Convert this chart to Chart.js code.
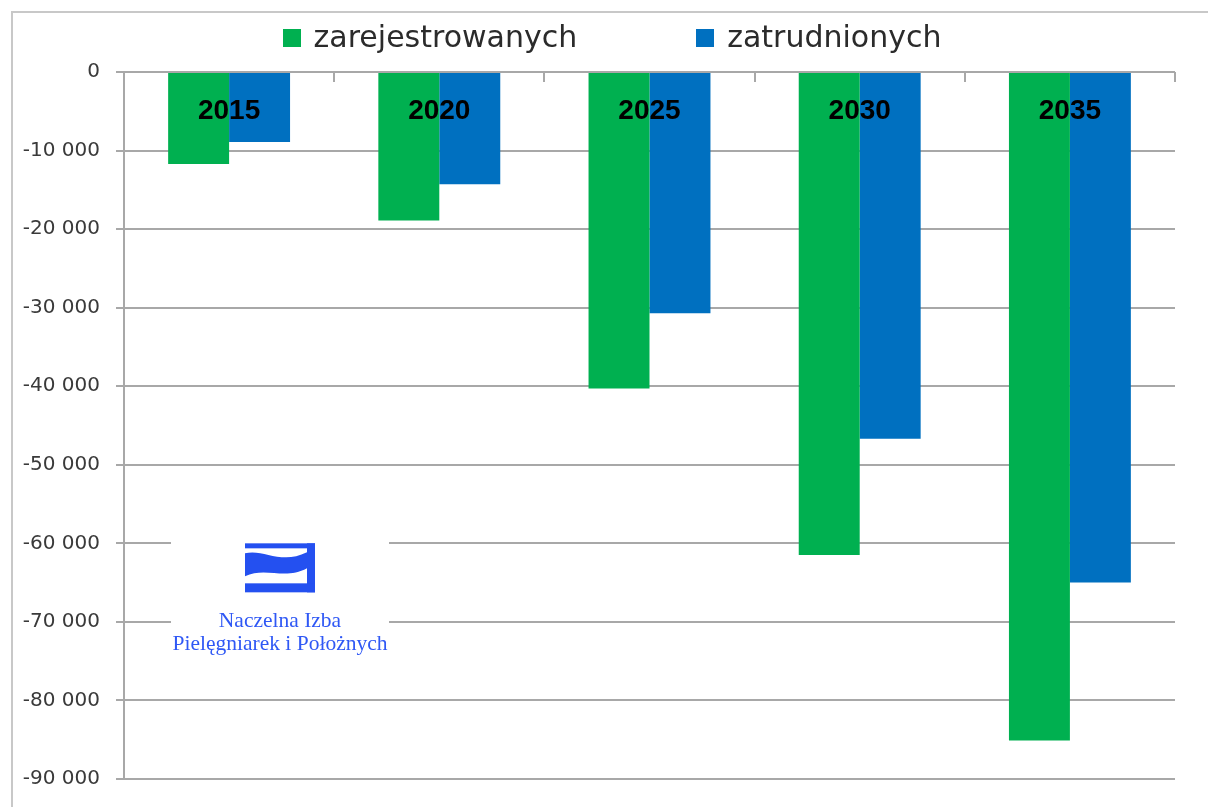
<!DOCTYPE html>
<html>
<head>
<meta charset="utf-8">
<script src="https://cdn.jsdelivr.net/npm/chart.js@4/dist/chart.umd.min.js"></script>
<style>
  html, body { margin: 0; padding: 0; background: #ffffff; overflow: hidden; }
  #wrap { position: relative; width: 1208px; height: 807px; overflow: hidden; }
  #frame { position: absolute; left: 11px; top: 11px; width: 1197px; height: 796px; border-left: 2px solid #c8c8c8; border-top: 2px solid #c8c8c8; box-sizing: border-box; }
  #c { position: absolute; left: 0; top: 0; }
</style>
</head>
<body>
<div id="wrap">
  <div id="frame"></div>
  <canvas id="c" width="1208" height="807"></canvas>
</div>
<script>
// ---- data ----
const categories = ['2015', '2020', '2025', '2030', '2035'];
const seriesNames = ['zarejestrowanych', 'zatrudnionych'];
const registered = [-11700, -18900, -40300, -61500, -85100];
const employed = [-8900, -14300, -30700, -46700, -65000];
const yTicks = { min: -90000, max: 0, step: 10000 };
const logoLines = ['Naczelna Izba', 'Pielęgniarek i Położnych'];

const GREEN = '#00B050';
const BLUE = '#0070C0';
const GRID = '#a8a8a8';

function fmt(v) {
  if (v === 0) return '0';
  const s = String(Math.abs(v)).replace(/\B(?=(\d{3})+(?!\d))/g, ' ');
  return (v < 0 ? '-' : '') + s;
}

// category labels inside the plot + boundary ticks on the zero line
const categoryPlugin = {
  id: 'categoryLabels',
  afterDatasetsDraw(chart) {
    const ctx = chart.ctx;
    const xs = chart.scales.x, ys = chart.scales.y;
    const y0 = ys.getPixelForValue(0);
    const n = chart.data.labels.length;
    const step = n > 1 ? xs.getPixelForValue(1) - xs.getPixelForValue(0) : 0;
    ctx.save();
    ctx.strokeStyle = GRID;
    ctx.lineWidth = 2;
    for (let i = 0; i < n; i++) {
      const bx = Math.round(xs.getPixelForValue(i) + step / 2);
      ctx.beginPath();
      ctx.moveTo(bx, y0);
      ctx.lineTo(bx, y0 + 10);
      ctx.stroke();
    }
    ctx.fillStyle = '#000000';
    ctx.font = 'bold 28px "Liberation Sans", Arial, sans-serif';
    ctx.textAlign = 'center';
    ctx.textBaseline = 'middle';
    chart.data.labels.forEach((lab, i) => {
      ctx.fillText(lab, xs.getPixelForValue(i), y0 + 39);
    });
    ctx.restore();
  }
};

// legend on top
const legendPlugin = {
  id: 'topLegend',
  afterDraw(chart) {
    const ctx = chart.ctx;
    ctx.save();
    ctx.font = '30px "DejaVu Sans", sans-serif';
    const box = 18, textGap = 13, itemGap = 119;
    const items = chart.data.datasets.map(d => ({ text: d.label, color: d.backgroundColor, w: ctx.measureText(d.label).width }));
    let total = 0;
    items.forEach((it, i) => { total += box + textGap + it.w + (i > 0 ? itemGap : 0); });
    let x = 612 - total / 2;
    items.forEach((it, i) => {
      if (i > 0) x += itemGap;
      ctx.fillStyle = it.color;
      ctx.fillRect(Math.round(x), 29, box, box);
      x += box + textGap;
      ctx.fillStyle = '#2b2b2b';
      ctx.textBaseline = 'alphabetic';
      ctx.textAlign = 'left';
      ctx.fillText(it.text, x, 47);
      x += it.w;
    });
    ctx.restore();
  }
};

// logo overlay (white panel over gridlines)
const logoPlugin = {
  id: 'logo',
  beforeDatasetsDraw(chart) {
    const ctx = chart.ctx;
    const left = chart.chartArea.left;
    const top = chart.scales.y.getPixelForValue(-60000);
    const ox = left + 47, oy = top - 2;
    ctx.save();
    ctx.fillStyle = '#ffffff';
    ctx.fillRect(ox, oy, 218, 122);
    const blue = '#2450f0';
    ctx.fillStyle = blue;
    const sx = left + 121, sy = top;
    // bracket
    ctx.fillRect(sx, sy, 70, 5);
    ctx.fillRect(sx + 62, sy, 8, 49);
    ctx.fillRect(sx, sy + 40, 70, 9);
    // wave
    ctx.beginPath();
    ctx.moveTo(sx, sy + 10);
    ctx.bezierCurveTo(sx + 18, sy + 5, sx + 36, sy + 22, sx + 62, sy + 9);
    ctx.lineTo(sx + 62, sy + 25);
    ctx.bezierCurveTo(sx + 40, sy + 37, sx + 20, sy + 23, sx, sy + 33);
    ctx.closePath();
    ctx.fill();
    // text
    ctx.fillStyle = '#2f58f5';
    ctx.font = '21.5px "Liberation Serif", "Times New Roman", serif';
    ctx.textAlign = 'center';
    ctx.textBaseline = 'alphabetic';
    ctx.fillText(logoLines[0], left + 156, top + 84);
    ctx.fillText(logoLines[1], left + 156, top + 107);
    ctx.restore();
  }
};

new Chart(document.getElementById('c'), {
  type: 'bar',
  data: {
    labels: categories,
    datasets: [
      { label: seriesNames[0], data: registered, backgroundColor: GREEN, borderWidth: 0 },
      { label: seriesNames[1], data: employed, backgroundColor: BLUE, borderWidth: 0 }
    ]
  },
  options: {
    responsive: false,
    animation: false,
    devicePixelRatio: 1,
    layout: { padding: { left: 0, right: 33, top: 72, bottom: 27 } },
    datasets: { bar: { categoryPercentage: 0.58, barPercentage: 1.0 } },
    plugins: { legend: { display: false }, tooltip: { enabled: false } },
    scales: {
      x: { display: false },
      y: {
        min: yTicks.min,
        max: yTicks.max,
        afterFit(scale) { scale.width = 124; },
        ticks: {
          stepSize: yTicks.step,
          callback: (v) => fmt(v),
          color: '#3a3a3a',
          font: { family: '"DejaVu Sans", sans-serif', size: 20 },
          padding: 16
        },
        grid: { color: GRID, lineWidth: 2, tickLength: 8, drawTicks: true },
        border: { display: true, color: GRID, width: 2 }
      }
    }
  },
  plugins: [categoryPlugin, logoPlugin, legendPlugin]
});
</script>
</body>
</html>
